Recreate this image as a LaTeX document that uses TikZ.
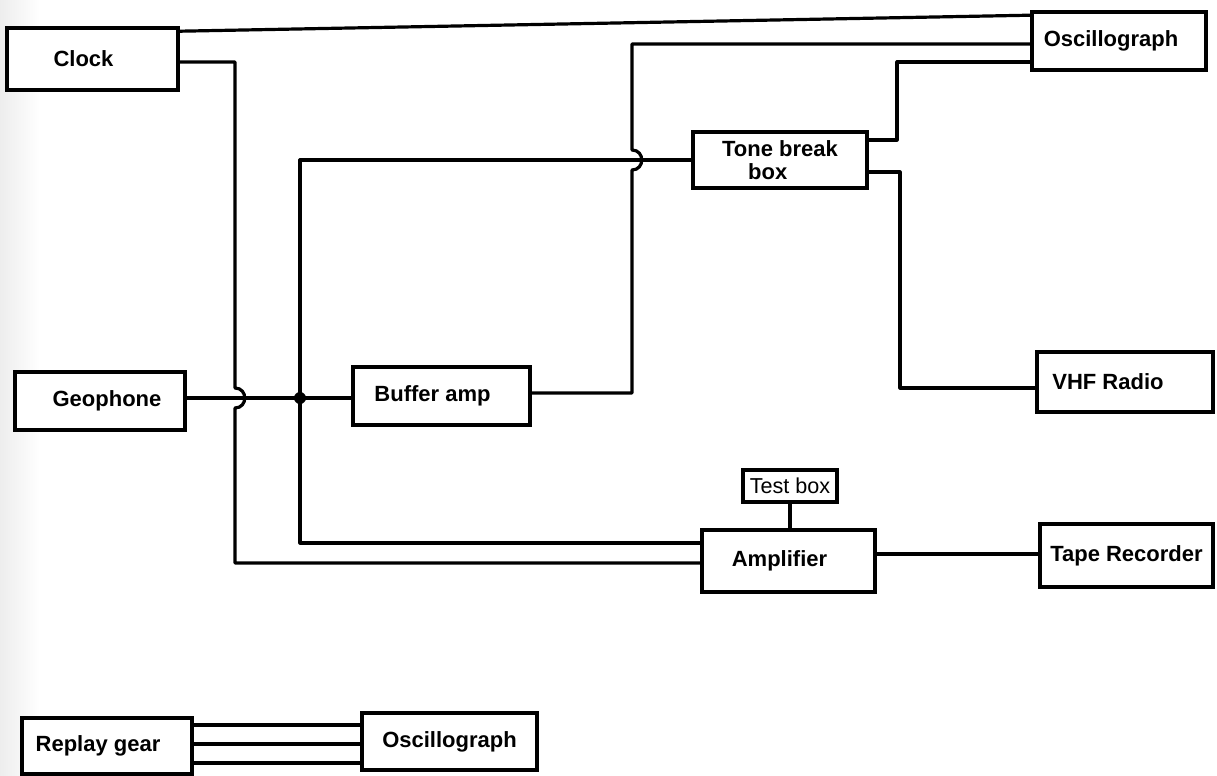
\documentclass[tikz,border=0pt]{standalone}
\usepackage{fontspec}
\setmainfont{Liberation Sans}
\usetikzlibrary{calc}
\begin{document}
\begin{tikzpicture}[x=0.5pt,y=-0.5pt,
  box/.style={draw, line width=1.8pt, fill=white, inner sep=0pt,
    font=\fontsize{11}{11.5}\selectfont\bfseries},
  smallbox/.style={draw, line width=1.6pt, fill=white, inner sep=0pt,
    font=\fontsize{10.8}{12}\selectfont},
  wire/.style={line width=1.6pt, line join=round, line cap=round},
  dotnode/.style={circle, fill=black, inner sep=0pt, minimum size=6pt}]
\useasboundingbox (0,0) rectangle (1217,776);
\fill[white] (0,0) rectangle (1217,776);
\shade[left color=black!7, right color=white] (0,0) rectangle (40,776);

% nodes
\node[box, minimum width=85.5pt, minimum height=31pt] (clock) at (92.5,59) {Clock\hspace*{9pt}};
\node[box, minimum width=87pt, minimum height=29pt] (osc1) at (1119,41) {Oscillograph\hspace*{8pt}};
\node[box, minimum width=87pt, minimum height=28pt, align=left] (tone) at (780,160) {Tone break\\\hspace*{13pt}box};
\node[box, minimum width=85pt, minimum height=29pt] (geo) at (100,401) {\hspace*{7pt}Geophone};
\node[box, minimum width=88.5pt, minimum height=29pt] (buf) at (441.5,396) {Buffer amp\hspace*{9pt}};
\node[box, minimum width=88pt, minimum height=30pt] (vhf) at (1125,382) {VHF Radio\hspace*{17pt}};
\node[smallbox, minimum width=47pt, minimum height=16pt] (test) at (790,486) {Test box};
\node[box, minimum width=86.5pt, minimum height=31pt] (amp) at (788.5,561) {Amplifier\hspace*{9pt}};
\node[box, minimum width=86.5pt, minimum height=31.5pt] (tape) at (1126.5,555.5) {Tape Recorder};
\node[box, minimum width=85pt, minimum height=28pt] (replay) at (107,746) {Replay gear\hspace*{9pt}};
\node[box, minimum width=87.5pt, minimum height=28.5pt] (osc2) at (449.5,741.5) {Oscillograph};

% bend / junction coordinates
\coordinate (ck1) at (235,62);
\coordinate (ck2) at (235,563);
\coordinate (j) at (300,398);
\coordinate (jt) at (300,160);
\coordinate (jb) at (300,543);
\coordinate (b1) at (632,393);
\coordinate (b2) at (632,44);
\coordinate (t1) at (897,62);
\coordinate (t2) at (900,388);

% clock top line to oscillograph
\draw[wire] ($(clock.north east)+(0,5)$) -- ($(osc1.north west)+(0,5)$);

% clock lower line down to amplifier, hopping over the geophone line
\draw[wire] ($(clock.east)+(0,3)$) -- (ck1) -- (235,388)
  .. controls (248,388) and (248,408) .. (235,408) -- (ck2) -- (amp.west |- ck2);

% geophone -> junction -> buffer amp
\draw[wire] (geo.east |- j) -- (j) -- (buf.west |- j);
\node[dotnode] (jdot) at (j) {};

% junction bus: up to tone break box, down to amplifier
\draw[wire] (tone.west) -- (jt) -- (jb) -- (amp.west |- jb);

% buffer amp -> oscillograph, hopping over the tone-break line
\draw[wire] (buf.east |- b1) -- (b1) -- (632,170)
  .. controls (645,170) and (645,150) .. (632,150) -- (b2) -- (osc1.west |- b2);

% tone break box -> oscillograph
\draw[wire] ($(tone.east)+(0,-20)$) -| (t1) -- (osc1.west |- t1);

% tone break box -> VHF radio
\draw[wire] ($(tone.east)+(0,12)$) -| (t2) -- (vhf.west |- t2);

% test box -> amplifier
\draw[wire] (test.south) -- (test.south |- amp.north);

% amplifier -> tape recorder
\draw[wire] ($(amp.east)+(0,-7)$) -- ($(tape.west)+(0,-1.5)$);

% replay gear -> oscillograph (three lines)
\foreach \dy in {-21,-2,17}
  \draw[wire] ($(replay.east)+(0,\dy)$) -- ($(osc2.west)+(0,\dy+4.5)$);
\end{tikzpicture}
\end{document}
